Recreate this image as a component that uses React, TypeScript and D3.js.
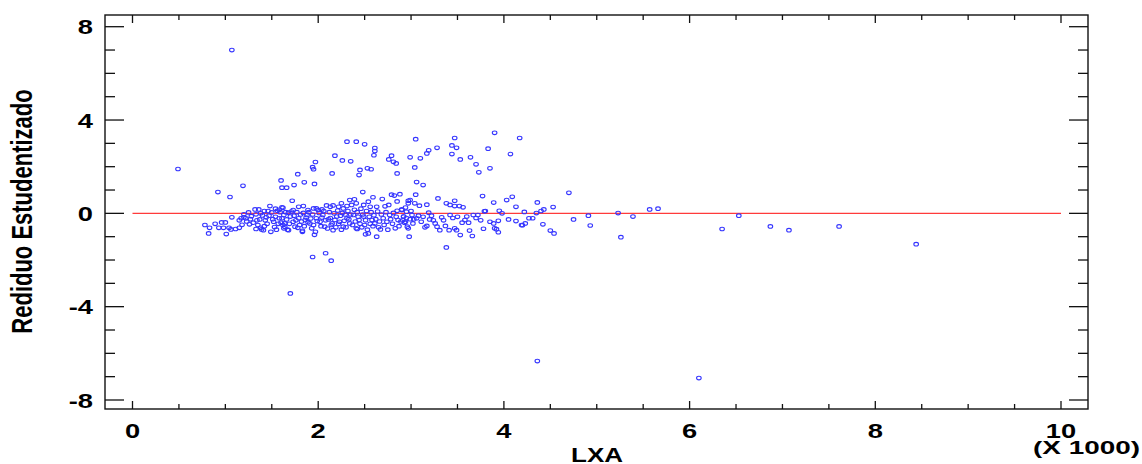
import React from 'react';
import * as d3 from 'd3';

// LXA values are in thousands (axis shows "(X 1000)")
const isolatedPoints: [number, number][] = [
  [0.49, 1.9], [1.07, 7.0], [0.92, 0.91], [1.05, 0.7], [1.19, 1.18], [1.7, -3.43], [4.36, -6.33], [6.1, -7.06],
  [8.44, -1.32], [7.61, -0.56], [7.07, -0.72], [6.87, -0.56], [6.53, -0.1], [6.35, -0.67], [5.66, 0.2], [5.57, 0.17],
  [5.39, -0.14], [5.26, -1.02], [5.23, 0.01], [4.93, -0.52], [4.91, -0.1], [4.75, -0.26], [4.7, 0.88],
  [1.94, -1.87], [2.08, -1.71], [2.14, -2.03], [3.38, -1.46],
];

const upperPoints: [number, number][] = [
  [1.6, 1.41], [1.61, 1.1], [1.66, 1.1], [1.74, 1.21], [1.78, 1.68], [1.85, 1.33], [1.94, 1.98], [1.95, 1.89],
  [1.97, 2.2], [1.96, 1.26], [2.15, 1.71], [2.18, 2.47], [2.26, 2.27], [2.31, 3.07], [2.41, 3.07], [2.5, 2.96],
  [2.61, 2.8], [2.61, 2.67], [2.6, 2.49], [2.35, 2.23], [2.79, 2.47], [2.76, 2.31], [2.81, 2.21], [2.84, 2.14],
  [3.05, 3.18], [2.99, 2.4], [3.1, 2.36], [3.17, 2.57], [3.19, 2.7], [3.28, 2.81], [3.04, 1.97], [2.85, 1.71],
  [3.06, 1.34], [3.13, 1.21], [2.45, 1.86], [2.44, 1.64], [2.53, 1.93], [2.57, 1.89], [3.47, 3.23], [3.44, 2.91],
  [3.49, 2.81], [3.44, 2.54], [3.53, 2.31], [3.64, 2.4], [3.7, 2.1], [3.73, 1.76], [3.83, 2.77], [3.9, 3.45],
  [3.85, 1.93], [4.17, 3.23], [4.07, 2.54],
];

const bandLeft: [number, number][] = [
  [0.78, -0.5], [0.82, -0.86], [0.83, -0.62], [0.89, -0.45], [0.93, -0.62], [0.96, -0.39], [0.98, -0.62], [1.0, -0.39],
  [1.01, -0.89], [1.04, -0.62], [1.06, -0.69], [1.07, -0.17], [1.11, -0.67], [1.15, -0.62], [1.15, -0.3], [1.17, -0.21],
  [1.18, -0.49], [1.2, -0.17], [1.2, -0.04], [1.22, -0.21], [1.25, 0.04], [1.26, -0.47], [1.28, -0.12], [1.32, 0.17],
  [1.33, -0.04], [1.33, -0.67], [1.36, 0.17], [1.37, -0.26], [1.4, -0.09], [1.38, -0.62], [1.41, -0.72], [1.45, -0.45],
  [1.44, -0.17], [1.48, 0.31], [1.49, -0.79], [1.5, 0.04], [1.52, -0.36], [1.53, -0.59], [1.55, -0.7], [1.56, 0.11],
  [1.58, -0.21], [1.6, -0.4], [1.61, 0.26], [1.63, -0.07], [1.64, -0.57], [1.66, -0.26], [1.68, 0.03],
  [1.39, -0.69], [1.67, -0.7], [1.83, -0.75], [2.42, -0.67], [2.51, -0.9],
  [1.23, -0.35], [1.27, -0.25], [1.3, -0.4], [1.34, -0.3], [1.35, -0.5], [1.42, -0.55], [1.43, -0.3], [1.46, 0.1],
  [1.47, -0.1], [1.51, -0.25], [1.54, -0.15], [1.57, -0.45], [1.59, 0.05], [1.62, -0.5], [1.54, 0.2], [1.58, 0.15],
  [1.42, 0.1], [1.38, 0.0],
];

const bandMiddle: [number, number][] = [
  [1.72, 0.54], [2.48, 0.91], [2.59, 0.69], [2.69, 0.61], [2.79, 0.8], [2.82, 0.76], [2.85, 0.51], [2.76, 0.36],
  [2.72, 0.3], [2.54, 0.5], [2.49, 0.36], [2.63, 0.28], [2.56, 0.28], [2.41, 0.43], [2.34, 0.57], [2.36, 0.36],
  [2.31, 0.31], [2.25, 0.43], [2.27, 0.21], [2.22, 0.28], [2.16, 0.34], [2.13, 0.28], [2.09, 0.34], [1.98, 0.21],
  [2.0, 0.14], [1.84, 0.31], [1.79, 0.28], [1.62, 0.24], [1.73, 0.14], [1.89, 0.14], [1.95, 0.21], [2.04, 0.17],
  [2.85, 0.11], [2.9, 0.17], [2.97, 0.54], [2.95, 0.07], [2.39, 0.6], [2.88, 0.82],
  [1.61, -0.21], [1.64, -0.43], [1.63, -0.64], [1.68, -0.72], [1.7, -0.14], [1.73, -0.36], [1.75, -0.57], [1.79, -0.21],
  [1.8, -0.5], [1.83, -0.79], [1.86, -0.29], [1.88, -0.07], [1.91, -0.43], [1.93, -0.64], [1.97, -0.79], [1.96, -0.92],
  [1.98, -0.21], [2.02, -0.36], [2.05, -0.07], [2.07, -0.57], [2.11, -0.26], [2.15, -0.43], [2.16, -0.72], [2.2, -0.14],
  [2.23, -0.36], [2.27, -0.57], [2.31, -0.21], [2.34, -0.43], [2.38, -0.07], [2.41, -0.64], [2.44, -0.29], [2.49, -0.14],
  [2.5, -0.5], [2.54, -0.86], [2.58, -0.29], [2.61, -0.43], [2.63, -1.0], [2.67, -0.69], [2.7, -0.21], [2.74, -0.36],
  [2.77, -0.07], [2.83, -0.64], [2.86, -0.29], [2.92, -0.14], [2.96, -0.57], [2.98, -1.0],
  [1.65, 0.05], [1.69, -0.45], [1.71, 0.08], [1.74, -0.1], [1.76, -0.3], [1.77, 0.05], [1.78, -0.62], [1.81, -0.05],
  [1.82, -0.35], [1.84, 0.02], [1.85, -0.55], [1.87, -0.18], [1.89, -0.38], [1.9, 0.05], [1.92, -0.22], [1.94, -0.05],
  [1.95, -0.5], [1.99, -0.33], [2.01, 0.02], [2.03, -0.55], [2.04, -0.18], [2.06, 0.1], [2.08, -0.3], [2.1, -0.65],
  [2.12, 0.05], [2.13, -0.2], [2.14, -0.5], [2.17, 0.0], [2.18, -0.28], [2.19, -0.6], [2.21, 0.12], [2.22, -0.45],
  [2.24, -0.1], [2.25, -0.7], [2.26, 0.02], [2.28, -0.32], [2.29, -0.05], [2.3, -0.6], [2.32, 0.1], [2.33, -0.25],
  [2.35, -0.05], [2.37, -0.5], [2.39, 0.15], [2.4, -0.35], [2.42, 0.05], [2.43, -0.15], [2.45, -0.45], [2.46, 0.2],
  [2.47, -0.6], [2.48, -0.05], [2.51, -0.3], [2.52, 0.1], [2.53, -0.7], [2.55, -0.15], [2.56, -0.45], [2.57, 0.05],
  [2.59, -0.55], [2.6, -0.08], [2.62, -0.25], [2.64, 0.08], [2.65, -0.6], [2.66, -0.35], [2.68, -0.05], [2.71, -0.5],
  [2.73, 0.05], [2.75, -0.7], [2.78, -0.25], [2.8, -0.45], [2.81, 0.02], [2.84, -0.15], [2.87, -0.55], [2.89, -0.35],
  [2.93, -0.4], [2.94, 0.25], [2.99, -0.25],
];

const bandRight: [number, number][] = [
  [3.05, 0.8], [2.99, 0.57], [2.97, 0.43], [3.04, 0.43], [3.09, 0.33], [3.17, 0.37], [3.29, 0.64], [3.38, 0.43],
  [3.42, 0.36], [3.47, 0.54], [3.47, 0.31], [3.52, 0.31], [3.56, 0.26], [3.77, 0.74], [3.89, 0.46], [4.03, 0.57],
  [4.09, 0.71], [4.13, 0.28], [2.9, 0.14], [3.0, 0.1], [3.19, 0.03], [3.8, 0.1], [3.95, 0.11], [3.98, 0.0], [4.22, 0.06],
  [2.92, -0.14], [2.94, -0.36], [3.01, -0.07], [3.06, -0.21], [3.02, -0.43], [2.97, -0.64], [3.11, -0.36], [3.17, -0.54],
  [3.2, -0.26], [3.26, -0.43], [3.28, -0.57], [3.31, -0.72], [3.33, -0.17], [3.37, -0.54], [3.41, -0.72], [3.42, -0.07],
  [3.47, -0.64], [3.49, -0.72], [3.53, -0.93], [3.55, -0.4], [3.58, -0.29], [3.6, -0.14], [3.63, -0.74], [3.66, -0.97],
  [3.67, -0.07], [3.72, -0.07], [3.78, -0.66], [3.85, -0.36], [3.89, -0.43], [3.9, -0.64], [3.94, -0.81], [3.94, -0.32],
  [4.05, -0.26], [4.13, -0.33], [4.19, -0.5], [4.23, -0.43], [4.27, -0.21],
  [2.91, -0.3], [2.95, -0.2], [3.03, -0.25], [3.08, -0.1], [3.13, -0.15], [3.15, -0.6], [3.22, -0.1], [3.24, -0.3],
  [3.35, -0.3], [3.45, -0.2], [3.5, -0.15], [3.62, -0.4], [3.7, -0.2], [3.75, -0.3], [3.79, 0.09], [3.92, -0.68],
  [4.36, 0.47], [4.53, 0.27], [4.43, 0.17], [4.4, 0.1], [4.35, 0.01], [4.31, -0.21], [4.2, -0.51], [4.42, -0.47],
  [4.5, -0.74], [4.54, -0.86],
];

const xMajorTicks = [0, 2, 4, 6, 8, 10];
const yMajorTicks = [-8, -4, 0, 4, 8];

const W = 1142, H = 464;
const left = 105, right = 1088, top = 15, bottom = 409;
const SX = 1.3; // horizontal glyph stretch seen in the original

const App: React.FC = () => {
  const x = d3.scaleLinear().domain([0, 10]).range([132.5, 1061]);
  const y = d3.scaleLinear().domain([-8, 8]).range([400, 26.7]);
  const xMinor = d3.range(0, 10.01, 0.5).filter(v => !xMajorTicks.includes(v));
  const yMinor = d3.range(-8, 9, 1).filter(v => !yMajorTicks.includes(v));
  const allPoints = [...isolatedPoints, ...upperPoints, ...bandLeft, ...bandMiddle, ...bandRight];
  const font = 'Liberation Sans, Arial, sans-serif';

  return (
    <div style={{ position: 'absolute', left: 0, top: 0 }}>
      <svg width={W} height={H} style={{ display: 'block', background: '#fff' }}>
        <rect x={0} y={0} width={W} height={H} fill="#fff" />
        {/* zero line */}
        <line x1={x(0)} x2={x(10)} y1={y(0)} y2={y(0)} stroke="#ff3b3b" strokeWidth={1.1} />
        {allPoints.map((d, i) => (
          <ellipse key={i} cx={x(d[0])} cy={y(d[1])} rx={2.3} ry={1.8} fill="none" stroke="#3535ff" strokeWidth={1.1} />
        ))}
        {/* frame */}
        <rect x={left} y={top} width={right - left} height={bottom - top} fill="none" stroke="#111" strokeWidth={1.4} />
        {/* y ticks both sides */}
        {yMajorTicks.map(v => (
          <g key={'ym' + v}>
            <line x1={left} x2={left + 19} y1={y(v)} y2={y(v)} stroke="#111" strokeWidth={1.3} />
            <line x1={right - 19} x2={right} y1={y(v)} y2={y(v)} stroke="#111" strokeWidth={1.3} />
            <text transform={`translate(93,${y(v)}) scale(${SX},1)`} textAnchor="end" dy="0.36em"
              fontFamily={font} fontWeight="bold" fontSize={21} fill="#000">{v}</text>
          </g>
        ))}
        {yMinor.map(v => (
          <g key={'yn' + v}>
            <line x1={left} x2={left + 10} y1={y(v)} y2={y(v)} stroke="#111" strokeWidth={1.3} />
            <line x1={right - 10} x2={right} y1={y(v)} y2={y(v)} stroke="#111" strokeWidth={1.3} />
          </g>
        ))}
        {/* x ticks top and bottom */}
        {xMajorTicks.map(v => (
          <g key={'xm' + v}>
            <line x1={x(v)} x2={x(v)} y1={bottom} y2={bottom - 8} stroke="#111" strokeWidth={1.3} />
            <line x1={x(v)} x2={x(v)} y1={top} y2={top + 8} stroke="#111" strokeWidth={1.3} />
            <text transform={`translate(${x(v)},438) scale(${SX},1)`} textAnchor="middle"
              fontFamily={font} fontWeight="bold" fontSize={21} fill="#000">{v}</text>
          </g>
        ))}
        {xMinor.map(v => (
          <g key={'xn' + v}>
            <line x1={x(v)} x2={x(v)} y1={bottom} y2={bottom - 5} stroke="#111" strokeWidth={1.3} />
            <line x1={x(v)} x2={x(v)} y1={top} y2={top + 5} stroke="#111" strokeWidth={1.3} />
          </g>
        ))}
        <text x={1033} y={454} textLength={107} lengthAdjust="spacingAndGlyphs"
          fontFamily={font} fontWeight="bold" fontSize={19} fill="#000">(X 1000)</text>
        <text transform={`translate(597,462) scale(${SX},1)`} textAnchor="middle"
          fontFamily={font} fontWeight="bold" fontSize={20} fill="#000">LXA</text>
        <text transform={`translate(32,211.5) scale(${SX},1) rotate(-90)`} textAnchor="middle"
          fontFamily={font} fontWeight="bold" fontSize={22} fill="#000">Rediduo Estudentizado</text>
      </svg>
    </div>
  );
};

export default App;
